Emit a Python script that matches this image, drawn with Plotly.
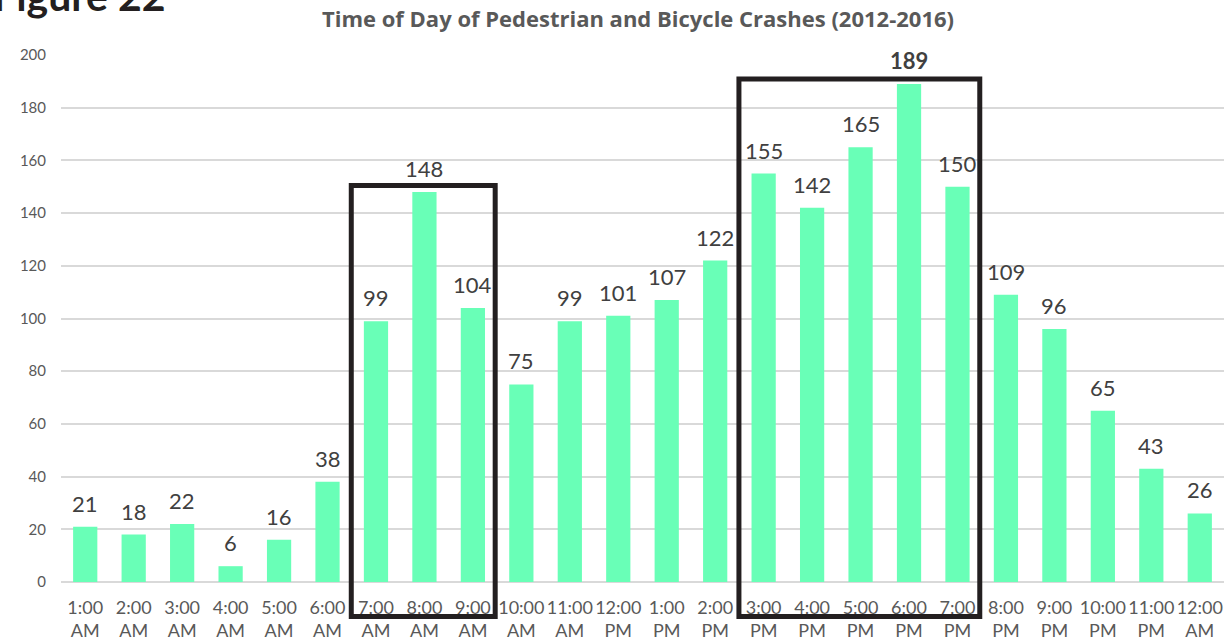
import plotly.graph_objects as go

hours = ["1:00", "2:00", "3:00", "4:00", "5:00", "6:00", "7:00", "8:00", "9:00", "10:00", "11:00", "12:00",
         "1:00", "2:00", "3:00", "4:00", "5:00", "6:00", "7:00", "8:00", "9:00", "10:00", "11:00", "12:00"]
periods = ["AM"] * 11 + ["PM"] * 12 + ["AM"]
crashes = [21, 18, 22, 6, 16, 38, 99, 148, 104, 75, 99, 101, 107, 122, 155, 142, 165, 189, 150, 109, 96, 65, 43, 26]
y_ticks = [0, 20, 40, 60, 80, 100, 120, 140, 160, 180, 200]
title_text = "Time of Day of Pedestrian and Bicycle Crashes (2012-2016)"
figure_label = "Figure 22"
# highlighted periods (first/last category index)
boxes = [(6, 8), (14, 18)]

categories = [f"{h}<br>{p}" for h, p in zip(hours, periods)]
max_val = max(crashes)
labels = [f"<b>{v}</b>" if v == max_val else str(v) for v in crashes]

FONT = "Lato"
BAR = "#69FFB7"
DARK = "#231F20"

W, H = 1225, 643

fig = go.Figure()
fig.add_trace(go.Bar(x=categories, y=crashes, marker=dict(color=BAR, line=dict(width=0)),
                     hoverinfo="skip"))

for c, v, t in zip(categories, crashes, labels):
    fig.add_annotation(x=c, y=v, text=t, showarrow=False, yanchor="bottom", yshift=8,
                       font=dict(family=FONT, size=22, color="#404040"))

# highlight boxes
box_tops = [0.7524, 0.9545]
for (a, b), top in zip(boxes, box_tops):
    fig.add_shape(type="rect", xref="x", yref="paper", x0=a - 0.51, x1=b + 0.46,
                  y0=-0.0655, y1=top, line=dict(color=DARK, width=5), fillcolor="rgba(0,0,0,0)",
                  layer="above")

fig.add_annotation(xref="paper", yref="paper", x=0.0911, y=1.0626, xanchor="right", yanchor="bottom",
                   text=f"<b>{figure_label}</b>", showarrow=False,
                   font=dict(family=FONT, size=41, color=DARK))

fig.update_layout(
    width=W, height=H,
    margin=dict(l=61, r=1, t=55, b=61, autoexpand=False),
    paper_bgcolor="white", plot_bgcolor="white",
    bargap=0.5,
    showlegend=False,
    title=dict(text=f"<b>{title_text}</b>", x=638 / W, y=1 - 19 / H, xref="container", yref="container",
               xanchor="center", yanchor="middle", font=dict(family="Open Sans", size=22, color="#595959")),
    xaxis=dict(type="category", showgrid=False, showline=False, ticks="", automargin=False,
               tickfont=dict(family=FONT, size=18, color="#595959"), ticklabelstandoff=13,
               tickangle=0),
    yaxis=dict(range=[0, 200], tickvals=y_ticks, showgrid=True, gridcolor="#D9D9D9", gridwidth=1.5,
               zeroline=True, zerolinecolor="#D9D9D9", zerolinewidth=1.5, showline=False, ticks="",
               automargin=False,
               tickfont=dict(family=FONT, size=15, color="#595959"), ticklabelstandoff=14),
)

# remove the browser's default 8px body margin so the figure fills the window
fig.write_html("out.html", config={"displayModeBar": False},
               post_script="document.body.style.margin='0';document.body.style.overflow='hidden';")
